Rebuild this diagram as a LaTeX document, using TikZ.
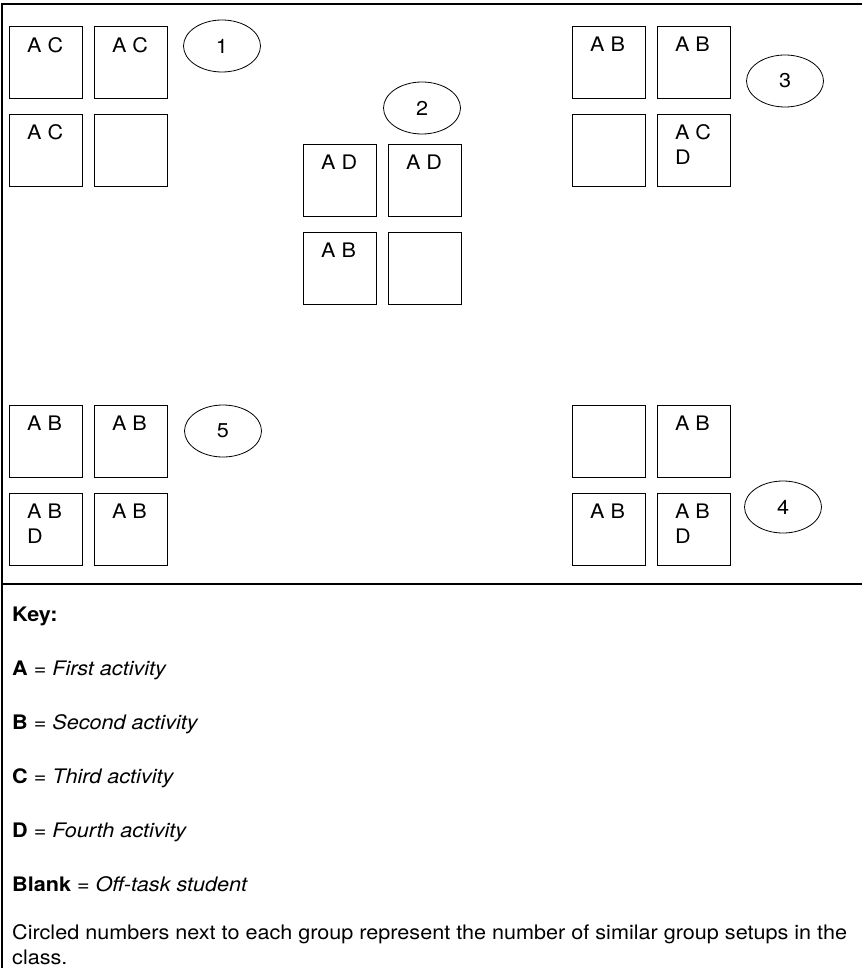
\documentclass[tikz,border=0pt]{standalone}
\usepackage{fontspec}
\setmainfont[FakeStretch=1.08]{TeX Gyre Heros}
\usetikzlibrary{positioning, shapes.geometric}

\tikzset{
  desktext/.style={anchor=north west, xshift=18pt, yshift=-11pt, inner sep=0pt,
                   align=left, font=\fontsize{20}{25}\selectfont},
  desk/.style={draw, line width=0.8pt, minimum width=73pt, minimum height=72pt,
               inner sep=0pt, label={[desktext]north west:#1}},
  desk/.default={},
  count/.style={draw, ellipse, line width=0.8pt, minimum width=77pt,
                minimum height=52pt, inner sep=0pt, font=\fontsize{20}{20}\selectfont},
  keyline/.style={anchor=base west, inner sep=0pt, font=\fontsize{20}{25}\selectfont}
}

% one group of four desks: name, x, y, then the four desk labels
\newcommand{\deskGroup}[7]{%
  \node[desk={#4}, anchor=north west] (#1a) at (#2,#3) {};
  \node[desk={#5}, right=11pt of #1a] (#1b) {};
  \node[desk={#6}, below=15pt of #1a] (#1c) {};
  \node[desk={#7}, below=15pt of #1b] (#1d) {};
}

\begin{document}
\begin{tikzpicture}[x=1pt, y=-1pt]
  \useasboundingbox (0,0) rectangle (862,968);

  % frame and separator
  \draw[line width=1.2pt] (2,968) -- (2,4) -- (862,4);
  \draw[line width=1.2pt] (2,584) -- (862,584);

  % groups of desks
  \deskGroup{ga}{9}{26}{A C}{A C}{A C}{}
  \deskGroup{gb}{303}{144}{A D}{A D}{A B}{}
  \deskGroup{gc}{572}{26}{A B}{A B}{}{A C\\D}
  \deskGroup{gd}{572}{405}{}{A B}{A B}{A B\\D}
  \deskGroup{ge}{9}{405}{A B}{A B}{A B\\D}{A B}

  % circled counts
  \node[count] (na) at (222,46) {1};
  \node[count] (nb) at (422,108) {2};
  \node[count] (nc) at (785,81) {3};
  \node[count] (nd) at (783,507) {4};
  \node[count] (ne) at (223,431) {5};

  % key
  \node[keyline] (key) at (12,621) {\textbf{Key:}};
  \node[keyline] (ka) at (12,675) {\textbf{A} = \textit{First activity}};
  \node[keyline] (kb) at (12,729) {\textbf{B} = \textit{Second activity}};
  \node[keyline] (kc) at (12,783) {\textbf{C} = \textit{Third activity}};
  \node[keyline] (kd) at (12,837) {\textbf{D} = \textit{Fourth activity}};
  \node[keyline] (kblank) at (12,891) {\textbf{Blank} = \textit{Off-task student}};
  \node[keyline, align=left] (note) at (12,964)
    {Circled numbers next to each group represent the number of similar group setups in the\\class.};
\end{tikzpicture}
\end{document}
